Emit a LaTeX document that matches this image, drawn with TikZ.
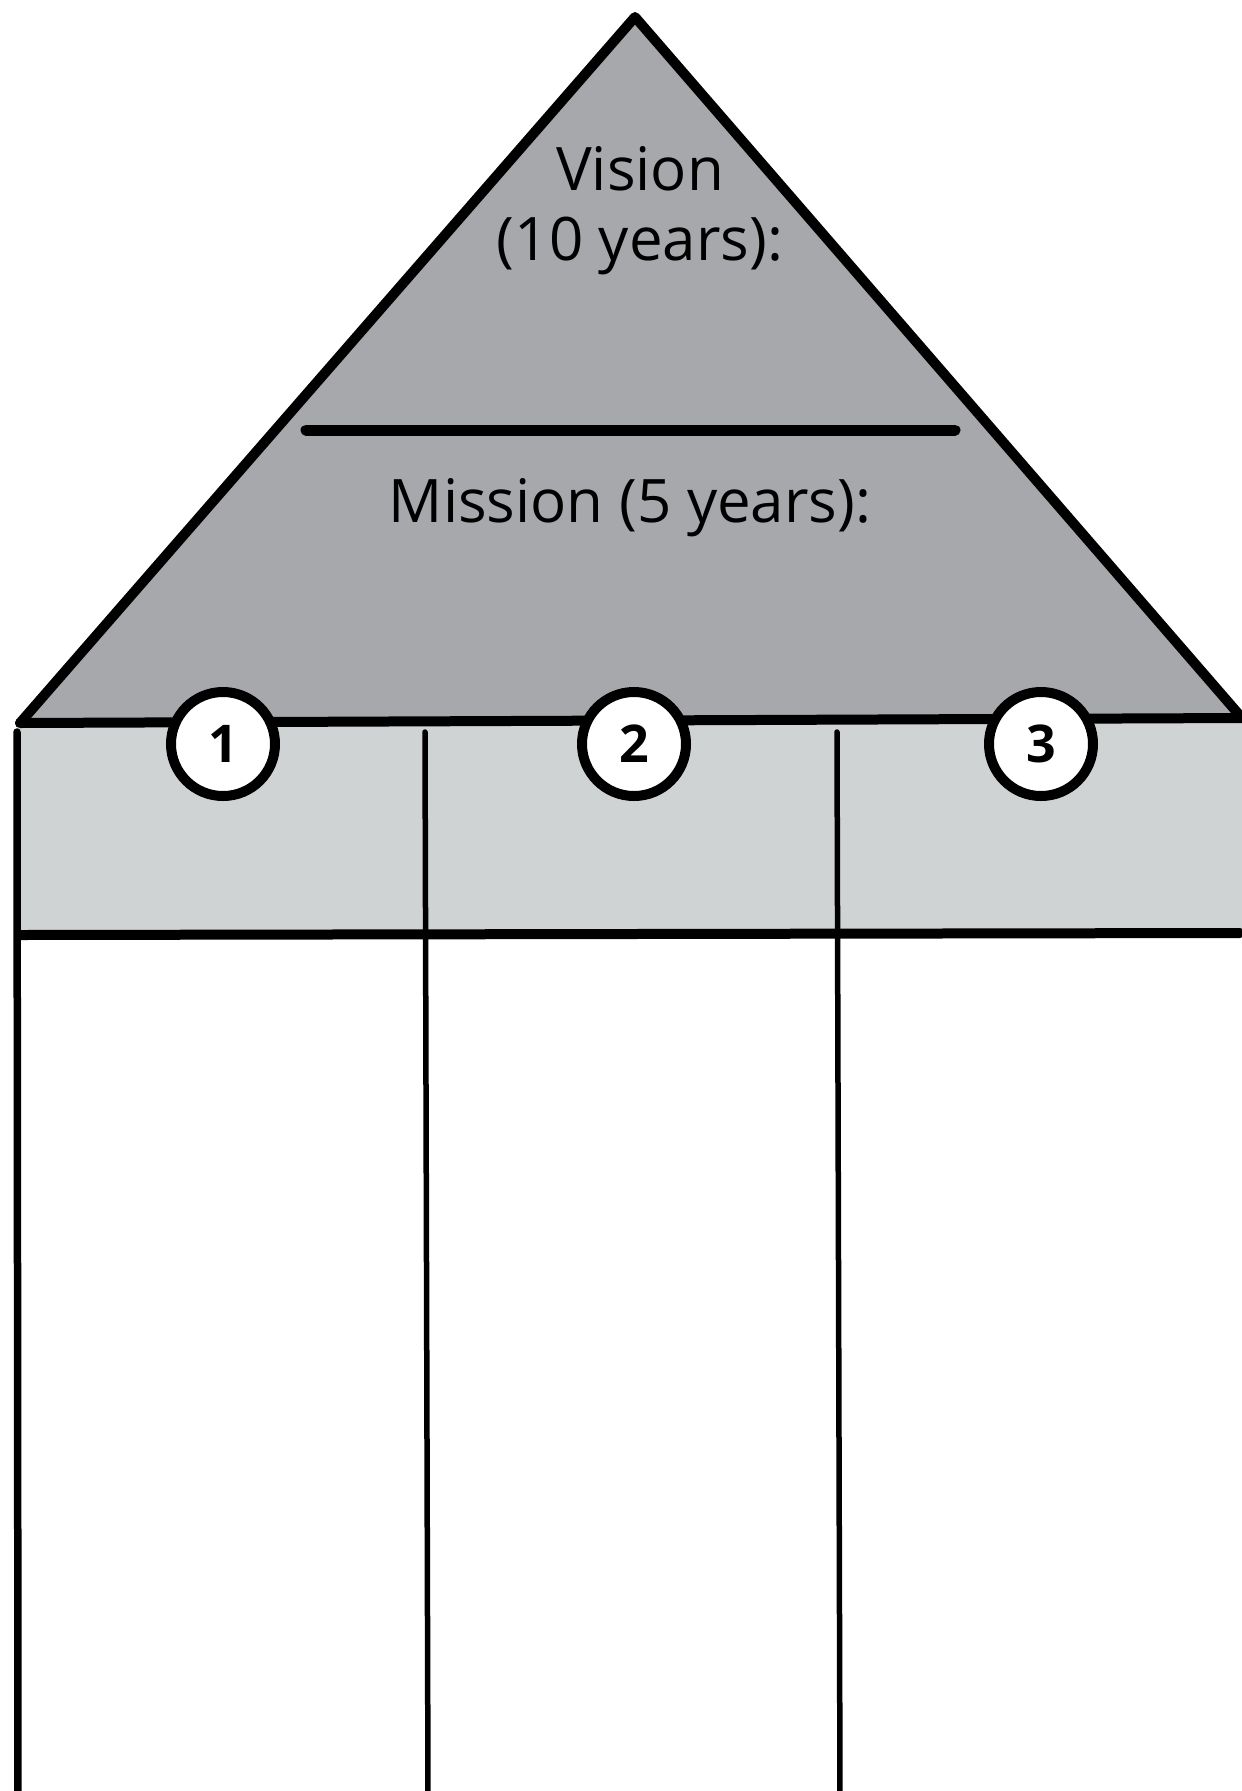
\documentclass[tikz,border=0pt]{standalone}
\usepackage{fontspec}
\setmainfont{Open Sans}
\definecolor{roofgray}{HTML}{A7A8AC}
\definecolor{bandgray}{HTML}{D0D3D4}
\begin{document}
\begin{tikzpicture}[x=1pt,y=-1pt,
  thick line/.style={line width=10pt,line cap=round,line join=round},
  col line/.style={line width=5.5pt,line cap=round},
  numcircle/.style={circle,draw,fill=white,line width=10pt,minimum size=104pt,inner sep=0pt,font=\fontsize{52}{52}\selectfont\bfseries},
  label text/.style={font=\fontsize{60}{70}\selectfont,align=center,inner sep=0pt}]
\useasboundingbox (0,0) rectangle (1242,1791);
% roof
\coordinate (apex) at (635,17);
\coordinate (bl) at (20,723);
\coordinate (br) at (1242,718);
\fill[roofgray] (apex) -- (bl) -- (br) -- cycle;
\draw[thick line] (bl) -- (apex) -- (br);
% band
\fill[bandgray] (17,723) -- (1242,718) -- (1242,933) -- (17,935) -- cycle;
\draw[thick line] (bl) -- (br);
\draw[thick line] (20,935) -- (1240,933);
% vertical lines
\draw[line width=7.5pt,line cap=round] (17,732) -- (18,1795);
\draw[col line] (425,732) -- (428,1795);
\draw[col line] (837,732) -- (840,1795);
% separator line in roof
\draw[line width=11pt,line cap=round] (306,430) -- (955,430);
% texts
\node[label text] (vision) at (640,211) {Vision\\(10 years):};
\node[label text] (mission) at (630,508) {Mission (5 years):};
% numbered circles
\node[numcircle] (c1) at (223,744) {1};
\node[numcircle] (c2) at (634,744) {2};
\node[numcircle] (c3) at (1041,744) {3};
\end{tikzpicture}
\end{document}
